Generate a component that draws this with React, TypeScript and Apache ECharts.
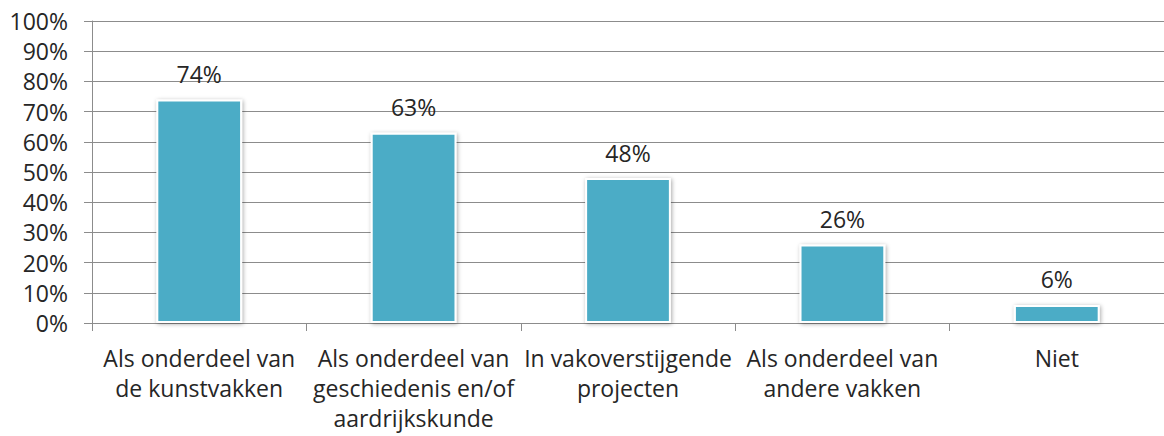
import React, { useEffect, useRef } from "react";
import * as echarts from "echarts";

const categories = [
  "Als onderdeel van\nde kunstvakken",
  "Als onderdeel van\ngeschiedenis en/of\naardrijkskunde",
  "In vakoverstijgende\nprojecten",
  "Als onderdeel van\nandere vakken",
  "Niet",
];
const values = [74, 63, 48, 26, 6];
const yTicks = [0, 10, 20, 30, 40, 50, 60, 70, 80, 90, 100];

export default function App() {
  const ref = useRef<HTMLDivElement>(null);
  useEffect(() => {
    if (!ref.current) return;
    const chart = echarts.init(ref.current, null, { renderer: "svg" });
    const font = "'Open Sans', sans-serif";
    chart.setOption({
      animation: false,
      backgroundColor: "#ffffff",
      grid: { left: 92, top: 21, bottom: 113, width: 1074, containLabel: false },
      xAxis: {
        type: "category",
        data: categories,
        axisLine: { show: true, lineStyle: { color: "#8c8c8c", width: 1 } },
        axisTick: { show: true, length: 8, lineStyle: { color: "#8c8c8c" } },
        axisLabel: {
          color: "#262626",
          fontFamily: font,
          fontSize: 23,
          lineHeight: 30,
          margin: 20,
          interval: 0,
        },
      },
      yAxis: {
        type: "value",
        min: 0,
        max: 100,
        interval: 10,
        axisLine: { show: true, lineStyle: { color: "#8c8c8c", width: 1 } },
        axisTick: { show: true, length: 8, lineStyle: { color: "#8c8c8c" } },
        splitLine: { show: true, lineStyle: { color: "#8c8c8c", width: 1 } },
        axisLabel: {
          color: "#262626",
          fontFamily: font,
          fontSize: 23,
          margin: 24,
          formatter: (v: number) => (yTicks.includes(v) ? v + "%" : ""),
        },
      },
      series: [
        {
          type: "bar",
          data: values,
          barWidth: "40%",
          itemStyle: {
            color: "#4BACC6",
            borderColor: "#ffffff",
            borderWidth: 2,
            shadowBlur: 4,
            shadowColor: "rgba(0,0,0,0.35)",
            shadowOffsetX: 1,
            shadowOffsetY: 1,
          },
          label: {
            show: true,
            position: "top",
            distance: 14,
            formatter: "{c}%",
            color: "#262626",
            fontFamily: font,
            fontSize: 23,
          },
        },
      ],
    });
    return () => chart.dispose();
  }, []);
  return (
    <div
      ref={ref}
      style={{ position: "fixed", left: 0, top: 0, width: 1164, height: 436 }}
    />
  );
}
